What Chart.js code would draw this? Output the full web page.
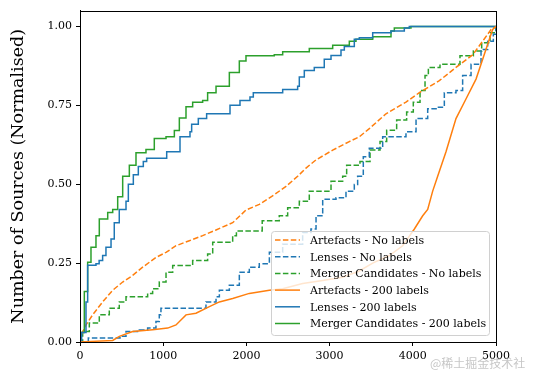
<!DOCTYPE html>
<html lang="en">
<head>
    <meta charset="UTF-8">
    <title>Number of Sources (Normalised)</title>
    <style>
        body {
            margin: 0;
            background: #fff;
        }
        .wrap {
            position: relative;
            width: 534px;
            height: 374px;
        }
        .mark {
            position: absolute;
            left: 430px;
            top: 354px;
            font: 12px "Noto Sans CJK SC", sans-serif;
            color: rgba(160, 160, 160, 0.6);
        }
    </style>
</head>
<body>
    <div class="wrap">
        <canvas id="chart" width="534" height="374"></canvas>
        <div class="mark">@稀土掘金技术社区</div>
    </div>

    <script src="https://cdn.jsdelivr.net/npm/chart.js"></script>
    <script>
        const xTicks = [0, 1000, 2000, 3000, 4000, 5000];
        const yTicks = [0, 0.25, 0.5, 0.75, 1.0];

        // Artefacts - No labels (orange, dashed)
        const artNoX = [0, 20, 72, 152, 272, 393, 513, 633, 753, 913, 1034, 1154, 1314, 1474, 1635, 1835, 1995, 2155, 2336, 2476, 2616, 2716, 2837, 3037, 3237, 3357, 3477, 3678, 3918, 4079, 4319, 4519, 4720, 4859, 4940, 5000];
        const artNoY = [0, 0.025, 0.054, 0.086, 0.127, 0.164, 0.19, 0.211, 0.237, 0.268, 0.284, 0.305, 0.321, 0.337, 0.355, 0.378, 0.418, 0.436, 0.467, 0.493, 0.525, 0.551, 0.577, 0.608, 0.635, 0.65, 0.676, 0.723, 0.76, 0.79, 0.828, 0.87, 0.91, 0.96, 0.99, 1.0];

        // Lenses - No labels (blue, dashed)
        const lensNoX = [0, 100, 481, 553, 713, 813, 913, 953, 973, 1514, 1635, 1675, 1795, 1915, 2035, 2155, 2276, 2436, 2676, 2776, 2837, 2917, 3077, 3197, 3297, 3337, 3405, 3477, 3638, 3918, 4039, 4179, 4299, 4379, 4519, 4599, 4700, 4820, 4900, 4968, 5000];
        const lensNoY = [0, 0.0125, 0.018, 0.033, 0.038, 0.044, 0.065, 0.086, 0.107, 0.127, 0.143, 0.164, 0.18, 0.221, 0.237, 0.248, 0.284, 0.31, 0.347, 0.358, 0.40, 0.452, 0.457, 0.478, 0.499, 0.525, 0.587, 0.614, 0.65, 0.666, 0.708, 0.739, 0.744, 0.79, 0.797, 0.844, 0.88, 0.927, 0.953, 0.975, 1.0];

        // Merger Candidates - No labels (green, dashed)
        const mergNoX = [0, 32, 112, 232, 352, 472, 553, 813, 873, 953, 1034, 1114, 1354, 1534, 1595, 1835, 1880, 2190, 2395, 2496, 2636, 2756, 3017, 3157, 3205, 3365, 3486, 3606, 3686, 3806, 3926, 4006, 4087, 4147, 4187, 4327, 4567, 4728, 4828, 4928, 5000];
        const mergNoY = [0, 0.033, 0.06, 0.086, 0.107, 0.127, 0.143, 0.154, 0.169, 0.19, 0.221, 0.242, 0.258, 0.279, 0.316, 0.337, 0.352, 0.384, 0.40, 0.425, 0.446, 0.478, 0.509, 0.525, 0.56, 0.572, 0.608, 0.635, 0.671, 0.703, 0.729, 0.76, 0.797, 0.844, 0.87, 0.88, 0.907, 0.922, 0.948, 0.98, 1.0];

        // Artefacts - 200 labels (orange, solid)
        const art200X = [0, 393, 473, 633, 873, 1054, 1154, 1274, 1394, 1555, 1675, 1835, 2035, 2276, 2436, 2676, 2917, 3157, 3357, 3518, 3718, 3878, 4019, 4119, 4179, 4239, 4299, 4399, 4519, 4639, 4760, 4840, 4920, 4960, 5000];
        const art200Y = [0, 0.005, 0.018, 0.033, 0.039, 0.044, 0.054, 0.086, 0.091, 0.112, 0.127, 0.138, 0.154, 0.164, 0.169, 0.185, 0.195, 0.205, 0.225, 0.25, 0.274, 0.305, 0.358, 0.40, 0.42, 0.478, 0.525, 0.603, 0.708, 0.77, 0.833, 0.896, 0.959, 0.99, 1.0];

        // Lenses - 200 labels (blue, solid)
        const lens200X = [0, 20, 72, 92, 192, 230, 272, 312, 373, 412, 472, 553, 581, 641, 701, 761, 801, 1042, 1202, 1322, 1342, 1422, 1522, 1803, 1923, 2043, 2083, 2436, 2616, 2636, 2696, 2816, 2936, 3017, 3137, 3177, 3297, 3357, 3518, 3738, 3898, 3958, 5000];
        const lens200Y = [0, 0.03, 0.127, 0.243, 0.248, 0.258, 0.274, 0.30, 0.326, 0.378, 0.42, 0.446, 0.50, 0.53, 0.556, 0.572, 0.582, 0.603, 0.65, 0.666, 0.69, 0.708, 0.723, 0.75, 0.765, 0.776, 0.79, 0.80, 0.81, 0.84, 0.86, 0.87, 0.896, 0.908, 0.925, 0.936, 0.959, 0.964, 0.98, 0.985, 0.995, 1.0, 1.0];

        // Merger Candidates - 200 labels (green, solid)
        const merg200X = [0, 13, 52, 92, 132, 192, 232, 333, 393, 453, 513, 593, 673, 793, 893, 1034, 1134, 1194, 1274, 1354, 1474, 1534, 1635, 1795, 1915, 1995, 2335, 2436, 2756, 3037, 3237, 3317, 3518, 3738, 3778, 3978, 5000];
        const merg200Y = [0, 0.03, 0.16, 0.253, 0.30, 0.337, 0.39, 0.41, 0.42, 0.46, 0.525, 0.56, 0.60, 0.61, 0.645, 0.65, 0.67, 0.71, 0.745, 0.76, 0.765, 0.79, 0.81, 0.854, 0.89, 0.907, 0.91, 0.92, 0.93, 0.94, 0.953, 0.959, 0.967, 0.985, 0.995, 1.0, 1.0];

        const ORANGE = '#ff7f0e';
        const BLUE = '#1f77b4';
        const GREEN = '#2ca02c';
        const DASH = [5.5, 2.4];
        const SERIF = "'DejaVu Serif', 'Liberation Serif', serif";

        function pts(xs, ys) {
            return xs.map((x, i) => ({ x: x, y: ys[i] }));
        }

        function series(label, xs, ys, color, dashed, stepped) {
            return {
                label: label,
                data: pts(xs, ys),
                borderColor: color,
                backgroundColor: color,
                borderWidth: 1.5,
                borderDash: dashed ? DASH : [],
                pointRadius: 0,
                fill: false,
                tension: 0,
                stepped: stepped,
                order: dashed ? 1 : 0
            };
        }

        // box around the plot (top and right spines too)
        const frame = {
            id: 'frame',
            afterDraw(chart) {
                const a = chart.chartArea;
                const ctx = chart.ctx;
                ctx.save();
                ctx.strokeStyle = '#000';
                ctx.lineWidth = 1;
                ctx.strokeRect(Math.round(a.left) + 0.5, Math.round(a.top) + 0.5, Math.round(a.right - a.left), Math.round(a.bottom - a.top));
                ctx.restore();
            }
        };

        // matplotlib-like legend sitting in the lower right corner of the plot
        const boxLegend = {
            id: 'boxLegend',
            afterDraw(chart) {
                const a = chart.chartArea;
                const ctx = chart.ctx;
                const w = 218, h = 104;
                const x0 = a.right - 7 - w, y0 = a.bottom - 7 - h;
                ctx.save();
                ctx.beginPath();
                ctx.roundRect(x0 + 0.5, y0 + 0.5, w, h, 3);
                ctx.fillStyle = 'rgba(255,255,255,0.8)';
                ctx.fill();
                ctx.strokeStyle = '#d0d0d0';
                ctx.lineWidth = 1;
                ctx.stroke();
                ctx.font = '11px ' + SERIF;
                ctx.textBaseline = 'middle';
                chart.data.datasets.forEach((ds, i) => {
                    const y = y0 + 9 + i * 16.7;
                    ctx.beginPath();
                    ctx.setLineDash(ds.borderDash);
                    ctx.strokeStyle = ds.borderColor;
                    ctx.lineWidth = 1.5;
                    ctx.moveTo(x0 + 4, y);
                    ctx.lineTo(x0 + 29, y);
                    ctx.stroke();
                    ctx.setLineDash([]);
                    ctx.fillStyle = '#000';
                    ctx.fillText(ds.label, x0 + 39, y + 1);
                });
                ctx.restore();
            }
        };

        const ctx = document.getElementById('chart').getContext('2d');
        const chart = new Chart(ctx, {
            type: 'line',
            data: {
                datasets: [
                    series('Artefacts - No labels', artNoX, artNoY, ORANGE, true, false),
                    series('Lenses - No labels', lensNoX, lensNoY, BLUE, true, true),
                    series('Merger Candidates - No labels', mergNoX, mergNoY, GREEN, true, true),
                    series('Artefacts - 200 labels', art200X, art200Y, ORANGE, false, false),
                    series('Lenses - 200 labels', lens200X, lens200Y, BLUE, false, true),
                    series('Merger Candidates - 200 labels', merg200X, merg200Y, GREEN, false, true)
                ]
            },
            options: {
                responsive: false,
                animation: false,
                layout: {
                    padding: { top: 7, right: 38, left: 0, bottom: 0 }
                },
                scales: {
                    x: {
                        type: 'linear',
                        min: 0,
                        max: 5000,
                        afterBuildTicks: s => { s.ticks = xTicks.map(v => ({ value: v })); },
                        afterFit: s => { s.height = 32; },
                        grid: { drawOnChartArea: false, drawTicks: true, tickLength: 4, color: '#000' },
                        border: { display: true, color: '#000', width: 1 },
                        ticks: {
                            color: '#000',
                            maxRotation: 0,
                            padding: 4,
                            font: { family: SERIF, size: 11 },
                            callback: v => String(v)
                        }
                    },
                    y: {
                        type: 'linear',
                        min: 0,
                        max: 1.05,
                        afterBuildTicks: s => { s.ticks = yTicks.map(v => ({ value: v })); },
                        afterFit: s => { s.width = 80; },
                        grid: { drawOnChartArea: false, drawTicks: true, tickLength: 4, color: '#000' },
                        border: { display: true, color: '#000', width: 1 },
                        ticks: {
                            color: '#000',
                            padding: 4,
                            font: { family: SERIF, size: 11 },
                            callback: v => v.toFixed(2)
                        },
                        title: {
                            display: true,
                            text: 'Number of Sources (Normalised)',
                            color: '#000',
                            font: { family: SERIF, size: 17.5 },
                            padding: { top: 8, bottom: 0 }
                        }
                    }
                },
                plugins: {
                    legend: { display: false },
                    tooltip: { enabled: false }
                }
            },
            plugins: [frame, boxLegend]
        });
    </script>
</body>
</html>
